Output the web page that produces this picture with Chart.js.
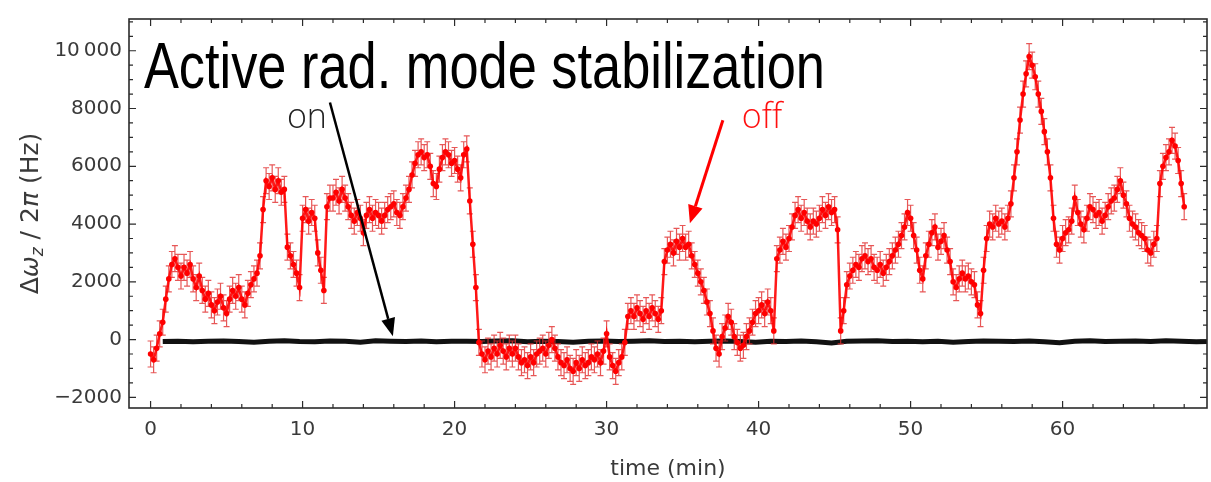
<!DOCTYPE html>
<html>
<head>
<meta charset="utf-8">
<script src="https://cdn.jsdelivr.net/npm/chart.js@4.4.1/dist/chart.umd.min.js"></script>
<style>
  html, body { margin: 0; padding: 0; background: #fff; }
  #wrap { width: 1211px; height: 482px; }
</style>
</head>
<body>
<div id="wrap"><canvas id="chart" width="1211" height="482"></canvas></div>
<script>
// axis ticks
const xTicks = [0, 10, 20, 30, 40, 50, 60];
const yTicks = [-2000, 0, 2000, 4000, 6000, 8000, 10000];
const yTickLabels = ['\u22122000', '0', '2000', '4000', '6000', '8000', '10\u2009000'];

// stabilization off (red), one value every 0.2 min from t = 0
const redStep = 0.2;
const redVals = [
  -500, -700, -300, 200, 600, 1400, 2100, 2600, 2800, 2500,
  2200, 2500, 2300, 2600, 2100, 1800, 2200, 1700, 1400, 1600,
  1200, 1000, 1300, 1500, 1100, 900, 1400, 1700, 1500, 1800,
  1400, 1200, 1600, 1900, 2100, 2300, 2900, 4500, 5500, 5300,
  5600, 5200, 5500, 5100, 5200, 3200, 2900, 2600, 2300, 1800,
  4200, 4500, 4100, 4400, 4200, 3000, 2400, 1700, 4600, 4900,
  4900, 5100, 4800, 5200, 4900, 4600, 4300, 4100, 4400, 4200,
  3700, 4300, 4500, 4200, 4400, 4300, 4100, 4300, 4500, 4600,
  4700, 4400, 4300, 4600, 4900, 5200, 5700, 6100, 6400, 6500,
  6300, 6400, 6000, 5400, 5300, 5900, 6300, 6500, 6400, 6100,
  6200, 5900, 5600, 6400, 6600, 4800, 3300, 1800, -100, -500,
  -700, -400, -600, -300, -500, -200, -400, -600, -300, -500,
  -300, -600, -800, -700, -900, -600, -800, -500, -400, -300,
  -500, -200, 0, -300, -600, -800, -900, -700, -1000, -1100,
  -800, -1000, -700, -900, -800, -600, -700, -500, -800, -400,
  200, -600, -900, -1100, -800, -600, -100, 800, 1000, 800,
  1100, 900, 700, 1000, 800, 1100, 900, 700, 1000, 2700,
  3100, 3300, 3000, 3400, 3200, 3500, 3200, 3300, 2900, 2600,
  2300, 2000, 1700, 1300, 900, 300, -300, -500, 100, 400,
  800, 600, 100, -100, -300, -200, 100, 300, 600, 900,
  1000, 1200, 900, 1300, 1000, 300, 2800, 3100, 3400, 3200,
  3500, 3900, 4300, 4500, 4200, 4400, 4100, 3900, 4100, 4000,
  4200, 4500, 4300, 4600, 4400, 4500, 3800, 300, 1000, 1900,
  2200, 2400, 2600, 2500, 2800, 2900, 2700, 2800, 2500, 2400,
  2600, 2300, 2500, 2700, 2900, 3100, 3300, 3600, 3900, 4400,
  4200, 3600, 3100, 2400, 2100, 2900, 3300, 3700, 3900, 3200,
  3400, 3600, 3100, 2700, 2000, 1800, 2100, 2300, 2100, 2200,
  2000, 1900, 1200, 900, 2400, 3500, 4000, 3900, 4200, 4000,
  4100, 3900, 4200, 4700, 5600, 6500, 7600, 8500, 9200, 9800,
  9500, 9100, 8500, 7900, 7200, 6500, 5600, 4200, 3300, 3100,
  3500, 3700, 3800, 4100, 4900, 4400, 4000, 3800, 4200, 4600,
  4500, 4300, 4400, 4100, 4300, 4600, 4800, 4900, 5200, 5500,
  5000, 4700, 4200, 4000, 3900, 3700, 3600, 3500, 3100, 3000,
  3300, 3500, 5400, 6000, 6300, 6500, 6900, 6700, 6200, 5400,
  4600
];
const redErr = 450;

// stabilization on (black), one value per minute from t = 0.8
const blackStart = 0.8;
const blackStep = 1;
const blackVals = [
  -70, -60, -80, -60, -50, -70, -90, -60, -40, -70,
  -80, -50, -60, -90, -40, -60, -70, -50, -80, -60,
  -60, -70, -50, -40, -80, -60, -70, -90, -60, -50,
  -70, -60, -40, -70, -60, -80, -60, -50, -70, -90,
  -60, -70, -50, -80, -120, -60, -50, -40, -70, -60,
  -80, -60, -90, -70, -50, -60, -70, -50, -80, -110,
  -60, -40, -70, -60, -50, -70, -40, -60, -80, -60
];

// annotations, in data units (min, Hz)
const titleText = 'Active rad. mode stabilization';
const titleAt = { x: -0.44, y: 8727 };
const onLabel = { text: 'on', x: 8.97, y: 7312 };
const offLabel = { text: 'off', x: 38.9, y: 7333 };
const onArrow = { from: { x: 11.8, y: 8207 }, to: { x: 15.94, y: 112 } };
const offArrow = { from: { x: 37.65, y: 7596 }, to: { x: 35.48, y: 4024 } };

const redData = redVals.map((v, i) => ({ x: +(i * redStep).toFixed(2), y: v }));
const blackData = blackVals.map((v, i) => ({ x: blackStart + i * blackStep, y: v }));

const axisColor = '#3a3a3a';

function drawArrow(ctx, x1, y1, x2, y2, color, width, headLen, headHalf) {
  const ang = Math.atan2(y2 - y1, x2 - x1);
  const bx = x2 - headLen * Math.cos(ang);
  const by = y2 - headLen * Math.sin(ang);
  ctx.strokeStyle = color;
  ctx.fillStyle = color;
  ctx.lineWidth = width;
  ctx.beginPath();
  ctx.moveTo(x1, y1);
  ctx.lineTo(bx, by);
  ctx.stroke();
  ctx.beginPath();
  ctx.moveTo(x2, y2);
  ctx.lineTo(bx + headHalf * Math.sin(ang), by - headHalf * Math.cos(ang));
  ctx.lineTo(bx - headHalf * Math.sin(ang), by + headHalf * Math.cos(ang));
  ctx.closePath();
  ctx.fill();
}

const errorBars = {
  id: 'errorBars',
  beforeDatasetDraw(chart, args) {
    if (args.index !== 0) return;
    const { ctx, chartArea: a, scales: { x, y } } = chart;
    ctx.save();
    ctx.beginPath();
    ctx.rect(a.left, a.top, a.right - a.left, a.bottom - a.top);
    ctx.clip();
    ctx.strokeStyle = 'rgba(225, 45, 45, 0.8)';
    ctx.lineWidth = 1.2;
    ctx.beginPath();
    redData.forEach(p => {
      const px = x.getPixelForValue(p.x);
      const top = y.getPixelForValue(p.y + redErr);
      const bot = y.getPixelForValue(p.y - redErr);
      ctx.moveTo(px, top); ctx.lineTo(px, bot);
      ctx.moveTo(px - 3, top); ctx.lineTo(px + 3, top);
      ctx.moveTo(px - 3, bot); ctx.lineTo(px + 3, bot);
    });
    ctx.stroke();
    ctx.restore();
  }
};

const frameAndNotes = {
  id: 'frameAndNotes',
  afterDraw(chart) {
    const { ctx, chartArea: a, scales: { x, y } } = chart;
    ctx.save();

    // frame with inward ticks on all sides
    ctx.strokeStyle = '#2b2b2b';
    ctx.lineWidth = 1.6;
    ctx.strokeRect(a.left, a.top, a.right - a.left, a.bottom - a.top);
    ctx.lineWidth = 1.2;
    ctx.beginPath();
    for (let t = 0; t <= 68; t += 2) {
      const px = x.getPixelForValue(t);
      const len = t % 10 === 0 ? 7 : 4;
      ctx.moveTo(px, a.bottom); ctx.lineTo(px, a.bottom - len);
      ctx.moveTo(px, a.top); ctx.lineTo(px, a.top + len);
    }
    for (let v = -2000; v <= 11000; v += 500) {
      const py = y.getPixelForValue(v);
      const len = v % 2000 === 0 ? 7 : 4;
      ctx.moveTo(a.left, py); ctx.lineTo(a.left + len, py);
      ctx.moveTo(a.right, py); ctx.lineTo(a.right - len, py);
    }
    ctx.stroke();

    // y axis title: Δω_z / 2π (Hz)
    ctx.save();
    const cy = (a.top + a.bottom) / 2;
    ctx.translate(38, cy);
    ctx.rotate(-Math.PI / 2);
    ctx.fillStyle = axisColor;
    ctx.textBaseline = 'alphabetic';
    const parts = [
      { t: '\u0394', f: '25px "DejaVu Sans"', dy: 0 },
      { t: '\u03c9', f: 'italic 25px "DejaVu Sans"', dy: 0 },
      { t: 'z', f: 'italic 17px "DejaVu Sans"', dy: 5 },
      { t: ' / 2', f: '25px "DejaVu Sans"', dy: 0 },
      { t: '\u03c0', f: 'italic 25px "DejaVu Sans"', dy: 0 },
      { t: ' (Hz)', f: '25px "DejaVu Sans"', dy: 0 }
    ];
    let total = 0;
    parts.forEach(p => { ctx.font = p.f; p.w = ctx.measureText(p.t).width; total += p.w; });
    let cx = -total / 2;
    parts.forEach(p => { ctx.font = p.f; ctx.fillText(p.t, cx, p.dy); cx += p.w; });
    ctx.restore();

    // big title, squeezed to the width of the original
    ctx.fillStyle = '#000';
    ctx.textBaseline = 'alphabetic';
    ctx.font = '65px "Liberation Sans", Arial, sans-serif';
    const tw = ctx.measureText(titleText).width;
    ctx.save();
    ctx.translate(x.getPixelForValue(titleAt.x), y.getPixelForValue(titleAt.y));
    ctx.scale(681 / tw, 1);
    ctx.fillText(titleText, 0, 0);
    ctx.restore();

    // on / off labels
    ctx.font = '300 34px "Open Sans", Lato, sans-serif';
    ctx.fillStyle = '#222';
    ctx.fillText(onLabel.text, x.getPixelForValue(onLabel.x), y.getPixelForValue(onLabel.y));
    ctx.fillStyle = '#ff1010';
    ctx.fillText(offLabel.text, x.getPixelForValue(offLabel.x), y.getPixelForValue(offLabel.y));

    drawArrow(ctx,
      x.getPixelForValue(onArrow.from.x), y.getPixelForValue(onArrow.from.y),
      x.getPixelForValue(onArrow.to.x), y.getPixelForValue(onArrow.to.y),
      '#000', 2.5, 18, 7);
    drawArrow(ctx,
      x.getPixelForValue(offArrow.from.x), y.getPixelForValue(offArrow.from.y),
      x.getPixelForValue(offArrow.to.x), y.getPixelForValue(offArrow.to.y),
      '#ff0000', 3, 18, 7.5);

    ctx.restore();
  }
};

const ctx = document.getElementById('chart').getContext('2d');
new Chart(ctx, {
  type: 'scatter',
  data: {
    datasets: [
      {
        label: 'off',
        data: redData,
        showLine: true,
        borderColor: 'rgba(255, 0, 0, 0.9)',
        borderWidth: 2.5,
        pointRadius: 2.8,
        pointBorderWidth: 0,
        pointBackgroundColor: '#ff0000',
        order: 1
      },
      {
        label: 'on',
        data: blackData,
        showLine: true,
        borderColor: '#111',
        borderWidth: 5,
        pointRadius: 0,
        order: 2
      }
    ]
  },
  options: {
    responsive: false,
    animation: false,
    events: [],
    layout: { padding: { top: 12, right: 4, left: 0, bottom: 0 } },
    plugins: {
      legend: { display: false },
      tooltip: { enabled: false }
    },
    scales: {
      x: {
        type: 'linear',
        min: -1.42,
        max: 69.5,
        grid: { display: false, drawTicks: false },
        border: { display: false },
        afterBuildTicks: s => { s.ticks = xTicks.map(v => ({ value: v })); },
        afterFit: s => { s.height = 74; },
        ticks: {
          font: { family: 'DejaVu Sans', size: 20 },
          color: axisColor,
          padding: 10,
          maxRotation: 0,
          autoSkip: false
        },
        title: {
          display: true,
          text: 'time (min)',
          font: { family: 'DejaVu Sans', size: 22 },
          color: axisColor,
          padding: { top: 0, bottom: 0 }
        }
      },
      y: {
        min: -2370,
        max: 11100,
        grid: { display: false, drawTicks: false },
        border: { display: false },
        afterBuildTicks: s => { s.ticks = yTicks.map(v => ({ value: v })); },
        afterFit: s => { s.width = 129; },
        ticks: {
          font: { family: 'DejaVu Sans', size: 20 },
          color: axisColor,
          padding: 7,
          callback: (v, i) => yTickLabels[i]
        }
      }
    }
  },
  plugins: [errorBars, frameAndNotes]
});
</script>
</body>
</html>
